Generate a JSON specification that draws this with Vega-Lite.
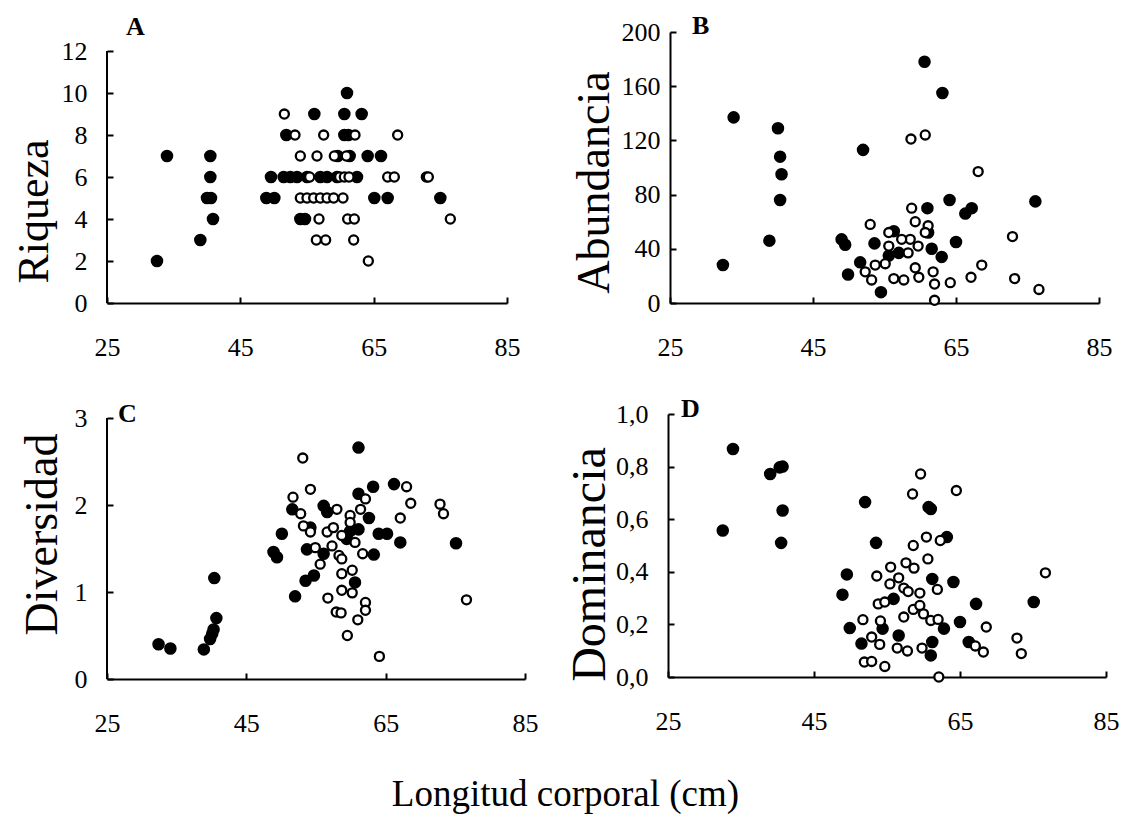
{
"$schema": "https://vega.github.io/schema/vega-lite/v6.json",
"padding": {"left": 12, "top": 13, "right": 5, "bottom": 5},
"background": "white",
"spacing": 36,
"title": {"text": "Longitud corporal (cm)", "orient": "bottom", "anchor": "middle", "font": "Liberation Serif", "fontSize": 37, "fontWeight": "normal", "color": "black", "offset": 41},
"datasets": {
"A": [
{"x":32.5,"y":2,"t":"f"},{"x":34,"y":7,"t":"f"},{"x":39,"y":3,"t":"f"},{"x":40.5,"y":7,"t":"f"},{"x":40.5,"y":6,"t":"f"},{"x":40,"y":5,"t":"f"},{"x":40.6,"y":5,"t":"f"},{"x":40.9,"y":4,"t":"f"},{"x":61,"y":10,"t":"f"},{"x":56.1,"y":9,"t":"f"},{"x":60.6,"y":9,"t":"f"},{"x":63.2,"y":9,"t":"f"},{"x":51.9,"y":8,"t":"f"},{"x":60.6,"y":8,"t":"f"},{"x":61.2,"y":8,"t":"f"},{"x":64.1,"y":7,"t":"f"},{"x":66.1,"y":7,"t":"f"},{"x":59.6,"y":7,"t":"f"},{"x":61.4,"y":7,"t":"f"},{"x":49.6,"y":6,"t":"f"},{"x":51.5,"y":6,"t":"f"},{"x":52.5,"y":6,"t":"f"},{"x":53.5,"y":6,"t":"f"},{"x":55,"y":6,"t":"f"},{"x":57,"y":6,"t":"f"},{"x":58,"y":6,"t":"f"},{"x":59.5,"y":6,"t":"f"},{"x":62.5,"y":6,"t":"f"},{"x":48.9,"y":5,"t":"f"},{"x":50.1,"y":5,"t":"f"},{"x":65.1,"y":5,"t":"f"},{"x":67.1,"y":5,"t":"f"},{"x":75,"y":5,"t":"f"},{"x":54,"y":4,"t":"f"},{"x":54.7,"y":4,"t":"f"},
{"x":51.6,"y":9,"t":"o"},{"x":53.2,"y":8,"t":"o"},{"x":57.5,"y":8,"t":"o"},{"x":62.2,"y":8,"t":"o"},{"x":68.6,"y":8,"t":"o"},{"x":54,"y":7,"t":"o"},{"x":56.5,"y":7,"t":"o"},{"x":59.1,"y":7,"t":"o"},{"x":60.9,"y":7,"t":"o"},{"x":55.4,"y":6,"t":"o"},{"x":59.9,"y":6,"t":"o"},{"x":60.6,"y":6,"t":"o"},{"x":61.3,"y":6,"t":"o"},{"x":67.1,"y":6,"t":"o"},{"x":68.1,"y":6,"t":"o"},{"x":72.9,"y":6,"t":"o"},{"x":73.2,"y":6,"t":"o"},{"x":54,"y":5,"t":"o"},{"x":55,"y":5,"t":"o"},{"x":56,"y":5,"t":"o"},{"x":57,"y":5,"t":"o"},{"x":58,"y":5,"t":"o"},{"x":59,"y":5,"t":"o"},{"x":60.4,"y":5,"t":"o"},{"x":56.8,"y":4,"t":"o"},{"x":61.1,"y":4,"t":"o"},{"x":62.1,"y":4,"t":"o"},{"x":76.5,"y":4,"t":"o"},{"x":56.4,"y":3,"t":"o"},{"x":57.8,"y":3,"t":"o"},{"x":62,"y":3,"t":"o"},{"x":64.2,"y":2,"t":"o"}
],
"B": [
{"x":32.4,"y":28,"t":"f"},{"x":33.9,"y":137,"t":"f"},{"x":38.9,"y":46,"t":"f"},{"x":40.1,"y":129,"t":"f"},{"x":40.4,"y":108,"t":"f"},{"x":40.6,"y":95,"t":"f"},{"x":40.4,"y":76,"t":"f"},{"x":52,"y":113,"t":"f"},{"x":60.6,"y":178,"t":"f"},{"x":63.1,"y":155,"t":"f"},{"x":49,"y":47,"t":"f"},{"x":49.5,"y":43,"t":"f"},{"x":49.9,"y":21,"t":"f"},{"x":51.6,"y":30,"t":"f"},{"x":53.6,"y":44,"t":"f"},{"x":54.5,"y":8,"t":"f"},{"x":56.3,"y":53,"t":"f"},{"x":55.6,"y":35,"t":"f"},{"x":57,"y":37,"t":"f"},{"x":61,"y":70,"t":"f"},{"x":61.1,"y":52,"t":"f"},{"x":61.6,"y":40,"t":"f"},{"x":63,"y":34,"t":"f"},{"x":64.1,"y":76,"t":"f"},{"x":65,"y":45,"t":"f"},{"x":66.3,"y":66,"t":"f"},{"x":67.2,"y":70,"t":"f"},{"x":76.1,"y":75,"t":"f"},
{"x":58.7,"y":121,"t":"o"},{"x":60.7,"y":124,"t":"o"},{"x":68.1,"y":97,"t":"o"},{"x":53,"y":58,"t":"o"},{"x":58.8,"y":70,"t":"o"},{"x":59.3,"y":60,"t":"o"},{"x":61.1,"y":57,"t":"o"},{"x":58.6,"y":47,"t":"o"},{"x":57.4,"y":47,"t":"o"},{"x":55.6,"y":42,"t":"o"},{"x":58.3,"y":37,"t":"o"},{"x":52.3,"y":23,"t":"o"},{"x":53.7,"y":28,"t":"o"},{"x":53.2,"y":17,"t":"o"},{"x":56.3,"y":18,"t":"o"},{"x":57.7,"y":17,"t":"o"},{"x":55.1,"y":29,"t":"o"},{"x":59.3,"y":26,"t":"o"},{"x":59.8,"y":19,"t":"o"},{"x":61.8,"y":23,"t":"o"},{"x":62,"y":14,"t":"o"},{"x":62,"y":2,"t":"o"},{"x":64.2,"y":15,"t":"o"},{"x":67.1,"y":19,"t":"o"},{"x":68.6,"y":28,"t":"o"},{"x":72.9,"y":49,"t":"o"},{"x":73.2,"y":18,"t":"o"},{"x":76.6,"y":10,"t":"o"},{"x":55.6,"y":52,"t":"o"},{"x":59.7,"y":42,"t":"o"},{"x":60.7,"y":52,"t":"o"}
],
"C": [
{"x":32.4,"y":0.40,"t":"f"},{"x":34.1,"y":0.35,"t":"f"},{"x":38.9,"y":0.34,"t":"f"},{"x":39.8,"y":0.46,"t":"f"},{"x":40.1,"y":0.52,"t":"f"},{"x":40.3,"y":0.57,"t":"f"},{"x":40.7,"y":0.70,"t":"f"},{"x":40.4,"y":1.16,"t":"f"},{"x":48.9,"y":1.46,"t":"f"},{"x":49.4,"y":1.40,"t":"f"},{"x":50.1,"y":1.67,"t":"f"},{"x":51.6,"y":1.95,"t":"f"},{"x":52,"y":0.95,"t":"f"},{"x":53.5,"y":1.13,"t":"f"},{"x":54.7,"y":1.19,"t":"f"},{"x":53.7,"y":1.49,"t":"f"},{"x":54.2,"y":1.74,"t":"f"},{"x":56.1,"y":1.99,"t":"f"},{"x":56.6,"y":1.92,"t":"f"},{"x":56.1,"y":1.44,"t":"f"},{"x":61.1,"y":2.66,"t":"f"},{"x":61.1,"y":2.13,"t":"f"},{"x":63.2,"y":2.21,"t":"f"},{"x":62.6,"y":1.85,"t":"f"},{"x":61.1,"y":1.72,"t":"f"},{"x":60.6,"y":1.11,"t":"f"},{"x":63.3,"y":1.43,"t":"f"},{"x":64,"y":1.67,"t":"f"},{"x":65.2,"y":1.67,"t":"f"},{"x":66.2,"y":2.24,"t":"f"},{"x":67.1,"y":1.57,"t":"f"},{"x":75.1,"y":1.56,"t":"f"},{"x":59.4,"y":1.61,"t":"f"},{"x":59.9,"y":1.70,"t":"f"},
{"x":53.1,"y":2.54,"t":"o"},{"x":54.2,"y":2.18,"t":"o"},{"x":51.7,"y":2.09,"t":"o"},{"x":52.8,"y":1.90,"t":"o"},{"x":53.2,"y":1.76,"t":"o"},{"x":54.2,"y":1.69,"t":"o"},{"x":54.9,"y":1.51,"t":"o"},{"x":55.6,"y":1.32,"t":"o"},{"x":56.6,"y":1.69,"t":"o"},{"x":57.5,"y":1.74,"t":"o"},{"x":58,"y":1.95,"t":"o"},{"x":57.3,"y":1.53,"t":"o"},{"x":58.7,"y":1.65,"t":"o"},{"x":58.3,"y":1.42,"t":"o"},{"x":58.7,"y":1.38,"t":"o"},{"x":59.9,"y":1.88,"t":"o"},{"x":59.9,"y":1.80,"t":"o"},{"x":60.6,"y":1.57,"t":"o"},{"x":61.4,"y":1.95,"t":"o"},{"x":62.1,"y":2.07,"t":"o"},{"x":61.7,"y":1.44,"t":"o"},{"x":58.7,"y":1.21,"t":"o"},{"x":60.2,"y":1.25,"t":"o"},{"x":58.7,"y":1.02,"t":"o"},{"x":60.2,"y":0.99,"t":"o"},{"x":56.7,"y":0.93,"t":"o"},{"x":57.9,"y":0.77,"t":"o"},{"x":58.6,"y":0.76,"t":"o"},{"x":62.1,"y":0.88,"t":"o"},{"x":62.1,"y":0.79,"t":"o"},{"x":61,"y":0.68,"t":"o"},{"x":59.5,"y":0.50,"t":"o"},{"x":64.1,"y":0.26,"t":"o"},{"x":67.1,"y":1.85,"t":"o"},{"x":68,"y":2.21,"t":"o"},{"x":68.6,"y":2.02,"t":"o"},{"x":72.8,"y":2.01,"t":"o"},{"x":73.3,"y":1.90,"t":"o"},{"x":76.6,"y":0.91,"t":"o"}
],
"D": [
{"x":32.5,"y":0.557,"t":"f"},{"x":33.9,"y":0.867,"t":"f"},{"x":39,"y":0.772,"t":"f"},{"x":40.3,"y":0.797,"t":"f"},{"x":40.7,"y":0.80,"t":"f"},{"x":40.7,"y":0.633,"t":"f"},{"x":40.5,"y":0.51,"t":"f"},{"x":52,"y":0.665,"t":"f"},{"x":53.5,"y":0.51,"t":"f"},{"x":49.5,"y":0.39,"t":"f"},{"x":48.9,"y":0.313,"t":"f"},{"x":49.9,"y":0.186,"t":"f"},{"x":51.5,"y":0.127,"t":"f"},{"x":54.4,"y":0.184,"t":"f"},{"x":55.9,"y":0.297,"t":"f"},{"x":56.6,"y":0.158,"t":"f"},{"x":60.7,"y":0.646,"t":"f"},{"x":61,"y":0.639,"t":"f"},{"x":63.2,"y":0.532,"t":"f"},{"x":64.1,"y":0.361,"t":"f"},{"x":61.2,"y":0.373,"t":"f"},{"x":62.8,"y":0.184,"t":"f"},{"x":65,"y":0.209,"t":"f"},{"x":66.2,"y":0.133,"t":"f"},{"x":67.2,"y":0.278,"t":"f"},{"x":61.2,"y":0.133,"t":"f"},{"x":61,"y":0.082,"t":"f"},{"x":75.1,"y":0.285,"t":"f"},
{"x":59.6,"y":0.772,"t":"o"},{"x":58.5,"y":0.696,"t":"o"},{"x":64.5,"y":0.709,"t":"o"},{"x":60.4,"y":0.532,"t":"o"},{"x":62.3,"y":0.519,"t":"o"},{"x":58.6,"y":0.50,"t":"o"},{"x":60.6,"y":0.449,"t":"o"},{"x":55.5,"y":0.418,"t":"o"},{"x":57.6,"y":0.434,"t":"o"},{"x":58.7,"y":0.414,"t":"o"},{"x":53.6,"y":0.384,"t":"o"},{"x":56.6,"y":0.377,"t":"o"},{"x":55.4,"y":0.354,"t":"o"},{"x":57.3,"y":0.338,"t":"o"},{"x":57.9,"y":0.325,"t":"o"},{"x":59.5,"y":0.319,"t":"o"},{"x":61.9,"y":0.333,"t":"o"},{"x":53.8,"y":0.278,"t":"o"},{"x":54.7,"y":0.285,"t":"o"},{"x":58.6,"y":0.257,"t":"o"},{"x":59.5,"y":0.272,"t":"o"},{"x":60,"y":0.24,"t":"o"},{"x":57.3,"y":0.228,"t":"o"},{"x":61,"y":0.215,"t":"o"},{"x":62,"y":0.219,"t":"o"},{"x":51.7,"y":0.218,"t":"o"},{"x":54.1,"y":0.213,"t":"o"},{"x":52.9,"y":0.152,"t":"o"},{"x":54,"y":0.124,"t":"o"},{"x":51.9,"y":0.057,"t":"o"},{"x":52.9,"y":0.059,"t":"o"},{"x":54.7,"y":0.04,"t":"o"},{"x":56.4,"y":0.11,"t":"o"},{"x":57.8,"y":0.099,"t":"o"},{"x":59.8,"y":0.11,"t":"o"},{"x":62.1,"y":0.0,"t":"o"},{"x":67.1,"y":0.118,"t":"o"},{"x":68.2,"y":0.095,"t":"o"},{"x":68.6,"y":0.19,"t":"o"},{"x":72.8,"y":0.148,"t":"o"},{"x":73.4,"y":0.089,"t":"o"},{"x":76.7,"y":0.396,"t":"o"}
]
},
"vconcat": [
{"hconcat": [
{"width": 400, "height": 271,
 "title": {"text": "A", "anchor": "start", "frame": "group", "dx": 19, "offset": -29, "baseline": "alphabetic"},
 "layer": [
 {"data": {"name": "A"},
  "mark": {"type": "point"},
  "encoding": {
   "x": {"field": "x", "type": "quantitative", "scale": {"domain": [25, 85], "nice": false, "zero": false}, "axis": {"values": [25, 45, 65, 85], "title": null, "labelPadding": 37}},
   "y": {"field": "y", "type": "quantitative", "scale": {"domain": [0, 12.905], "nice": false}, "axis": {"values": [0, 2, 4, 6, 8, 10, 12], "domain": false, "title": "Riqueza", "titleFontSize": 44, "titlePadding": 5, "titleY": 179, "labelPadding": 26}},
   "fill": {"field": "t", "type": "nominal", "scale": {"domain": ["f", "o"], "range": ["black", "white"]}, "legend": null},
   "size": {"field": "t", "type": "nominal", "scale": {"domain": ["f", "o"], "range": [105, 82]}, "legend": null}
  }},
 {"data": {"values": [{"x0": 25, "ya": 0, "yb": 12}]},
  "mark": {"type": "rule", "color": "black", "strokeWidth": 2},
  "encoding": {"x": {"field": "x0", "type": "quantitative"}, "y": {"field": "ya", "type": "quantitative"}, "y2": {"field": "yb"}}}
 ]},
{"data": {"name": "B"}, "width": 429, "height": 271,
 "title": {"text": "B", "anchor": "start", "frame": "group", "dx": 22, "offset": -41, "baseline": "alphabetic"},
 "mark": {"type": "point"},
 "encoding": {
  "x": {"field": "x", "type": "quantitative", "scale": {"domain": [25, 85], "nice": false, "zero": false}, "axis": {"values": [25, 45, 65, 85], "title": null, "labelPadding": 37}},
  "y": {"field": "y", "type": "quantitative", "scale": {"domain": [0, 200], "nice": false}, "axis": {"values": [0, 40, 80, 120, 160, 200], "title": "Abundancia", "titleFontSize": 46, "titlePadding": 3, "titleY": 150, "labelPadding": 16}},
  "fill": {"field": "t", "type": "nominal", "scale": {"domain": ["f", "o"], "range": ["black", "white"]}, "legend": null},
  "size": {"field": "t", "type": "nominal", "scale": {"domain": ["f", "o"], "range": [105, 82]}, "legend": null}
 }}
], "spacing": 51},
{"hconcat": [
{"width": 418, "height": 265,
 "title": {"text": "C", "anchor": "start", "frame": "group", "dx": 11, "offset": -43, "baseline": "alphabetic"},
 "layer": [
 {"data": {"name": "C"},
  "mark": {"type": "point"},
  "encoding": {
   "x": {"field": "x", "type": "quantitative", "scale": {"domain": [25, 85], "nice": false, "zero": false}, "axis": {"values": [25, 45, 65, 85], "title": null, "labelPadding": 37}},
   "y": {"field": "y", "type": "quantitative", "scale": {"domain": [0, 3.046], "nice": false}, "axis": {"values": [0, 1, 2, 3], "format": "d", "domain": false, "title": "Diversidad", "titleFontSize": 46, "titlePadding": 8, "titleY": 120, "labelPadding": 26}},
   "fill": {"field": "t", "type": "nominal", "scale": {"domain": ["f", "o"], "range": ["black", "white"]}, "legend": null},
   "size": {"field": "t", "type": "nominal", "scale": {"domain": ["f", "o"], "range": [105, 82]}, "legend": null}
  }},
 {"data": {"values": [{"x0": 25, "ya": 0, "yb": 3}]},
  "mark": {"type": "rule", "color": "black", "strokeWidth": 2},
  "encoding": {"x": {"field": "x0", "type": "quantitative"}, "y": {"field": "ya", "type": "quantitative"}, "y2": {"field": "yb"}}}
 ]},
{"data": {"name": "D"}, "width": 438, "height": 263,
 "title": {"text": "D", "anchor": "start", "frame": "group", "dx": 13, "offset": -42, "baseline": "alphabetic"},
 "mark": {"type": "point"},
 "encoding": {
  "x": {"field": "x", "type": "quantitative", "scale": {"domain": [25, 85], "nice": false, "zero": false}, "axis": {"values": [25, 45, 65, 85], "title": null, "labelPadding": 37}},
  "y": {"field": "y", "type": "quantitative", "scale": {"domain": [0, 1], "nice": false}, "axis": {"values": [0, 0.2, 0.4, 0.6, 0.8, 1], "labelExpr": "replace(format(datum.value, '.1f'), '.', ',')", "title": "Dominancia", "titleFontSize": 48, "titlePadding": 1, "titleY": 150, "labelPadding": 26}},
  "fill": {"field": "t", "type": "nominal", "scale": {"domain": ["f", "o"], "range": ["black", "white"]}, "legend": null},
  "size": {"field": "t", "type": "nominal", "scale": {"domain": ["f", "o"], "range": [105, 82]}, "legend": null}
 }}
], "spacing": 28}
],
"config": {
 "view": {"stroke": null},
 "font": "Liberation Serif",
 "title": {"font": "Liberation Serif", "fontSize": 26, "fontWeight": "bold", "color": "black"},
 "axis": {"grid": false, "labelFlush": false, "domainColor": "black", "domainWidth": 2, "tickColor": "black", "tickWidth": 2, "tickSize": -6, "labelFont": "Liberation Serif", "labelFontSize": 26, "labelColor": "black", "titleFont": "Liberation Serif", "titleColor": "black", "titleFontWeight": "normal"},
 "point": {"filled": true, "stroke": "black", "strokeWidth": 2.3, "opacity": 1}
}
}
